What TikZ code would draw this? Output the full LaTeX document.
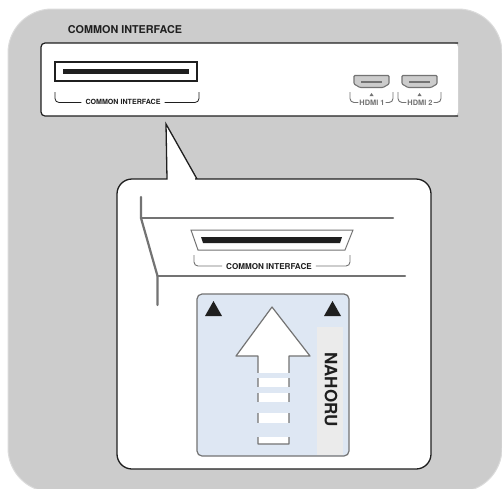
\documentclass[tikz,border=0pt]{standalone}
\usepackage{fontspec}
\setmainfont{TeX Gyre Heros}
\usetikzlibrary{positioning}
\definecolor{panelgray}{gray}{0.8}
\definecolor{paneledge}{gray}{0.86}
\definecolor{linegray}{gray}{0.45}
\definecolor{cardblue}{RGB}{222,231,243}
\definecolor{stripgray}{RGB}{235,235,235}
\definecolor{inkblack}{gray}{0.12}
\begin{document}
\begin{tikzpicture}[x=1pt,y=-1pt,
 bracket/.style={draw=inkblack,line width=0.8pt,rounded corners=4pt},
 graybracket/.style={draw=linegray,line width=0.9pt,rounded corners=4pt},
 tag/.style={inner sep=1pt,font=\bfseries\fontsize{7.1}{7}\selectfont,text=inkblack},
 slotfont/.style={font=\bfseries\fontsize{8.1}{8}\selectfont},
 hdmitag/.style={inner sep=1pt,font=\bfseries\fontsize{7.4}{7}\selectfont,text=linegray},
 hdmi/.style={draw=linegray,fill=panelgray,line width=1.1pt,rounded corners=1pt},
 corner/.style={fill=inkblack,draw=none},
 wall/.style={draw=linegray,line width=2.2pt,line cap=round}]
\useasboundingbox (0,0) rectangle (502,488);
\fill[white] (0,0) rectangle (502,488);
\draw[paneledge,fill=panelgray,line width=1pt,rounded corners=44pt] (8,9) rectangle (502,492);
% panel of the set
\node[inner sep=0pt,font=\bfseries\fontsize{10.8}{11}\selectfont,text=inkblack] (title) at (125,30) {COMMON INTERFACE};
\fill[white,rounded corners=4pt] (458,43) -- (41,43) -- (41,116) -- (458,116) -- cycle;
\draw[inkblack,line width=1.2pt,rounded corners=4pt] (458,43) -- (41,43) -- (41,116) -- (458,116);
\draw[inkblack,line width=1.2pt,fill=white] (55,62) rectangle (197,81);
\fill[inkblack] (63,68.5) rectangle (189,74);
\node[tag] (citag) at (123,102) {COMMON INTERFACE};
\draw[bracket] (citag.west) ++(-3,0.5) -- (55,102.5) -- (55,92);
\draw[bracket] (citag.east) ++(3,0.5) -- (199,102.5) -- (199,92);
% hdmi sockets
\foreach \x/\n in {354/1,402/2}{
 \draw[hdmi] (\x,75.5) -- (\x+35,75.5) -- (\x+35,84) -- (\x+29,87.5) -- (\x+6,87.5) -- (\x,84) -- cycle;
 \fill[linegray] (\x+7,81) rectangle (\x+28,83);
 \fill[linegray] (\x+15.5,96) -- (\x+19.5,96) -- (\x+17.5,93) -- cycle;
 \node[hdmitag] (hdmi\n) at (\x+18,102.5) {HDMI \n};
 \draw[graybracket] (hdmi\n.west) -- (\x-4,102.5) -- (\x-4,92);
 \draw[graybracket] (hdmi\n.east) -- (\x+39,102.5) -- (\x+39,92);
}
% callout
\draw[inkblack,line width=1.3pt,fill=white,line join=miter] (197,179) -- (166,124) -- (167,179) -- (150,179) [rounded corners=15pt] -- (117,179) -- (117,469) -- (431,469) -- (431,179) -- (210,179) [sharp corners] -- cycle;
\draw[wall] (141,197) -- (141,218) -- (157.5,276) -- (157.5,305);
\draw[wall] (141,218) -- (393,218);
\draw[wall] (157.5,276) -- (405,276);
\draw[linegray,line width=1pt,fill=white] (191,230) -- (353,230) -- (345,250) -- (198,250) -- cycle;
\fill[inkblack] (201,237) -- (342,237) -- (340,243) -- (203,243) -- cycle;
\node[tag,slotfont] (slottag) at (269,267) {COMMON INTERFACE};
\draw[graybracket] (slottag.west) ++(-3,-1) -- (194,266) -- (194,255);
\draw[graybracket] (slottag.east) ++(3,-1) -- (350,266) -- (350,255);
% card
\draw[linegray,line width=1.2pt,fill=cardblue,rounded corners=5pt] (197,294) rectangle (349,456);
\fill[stripgray] (317,327) rectangle (343,455);
\node[rotate=-90,inner sep=0pt,font=\bfseries\fontsize{17}{18}\selectfont,text=inkblack] (brand) at (331,389.5) {NAHORU};
\fill[corner] (205,316) -- (222,316) -- (213.5,301) -- cycle;
\fill[corner] (324,316) -- (341,316) -- (332.5,301) -- cycle;
\draw[linegray,line width=1.2pt,fill=white,line join=round] (258,356) -- (258,444) -- (289,444) -- (289,356) -- (310,356) -- (272,307) -- (236,356) -- cycle;
\foreach \y/\h in {373/5,387/6,402/11,423/14}{\fill[cardblue] (257,\y) rectangle (290,\y+\h);}
\end{tikzpicture}
\end{document}
